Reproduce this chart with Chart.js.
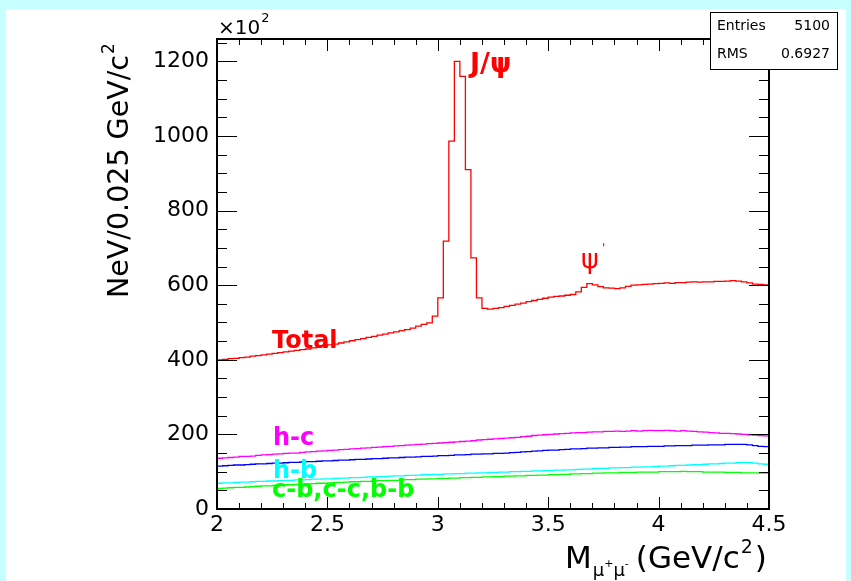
<!DOCTYPE html>
<html>
<head>
<meta charset="utf-8">
<script src="https://cdn.jsdelivr.net/npm/chart.js@4.4.1/dist/chart.umd.min.js"></script>
<style>
  html, body { margin: 0; padding: 0; background: #c6ffff; overflow: hidden; }
  #pad { position: absolute; left: 6px; top: 9px; width: 840px; height: 572px; background: #fff; }
  #c { position: absolute; left: 0; top: 0; }
</style>
</head>
<body>
<div id="pad"></div>
<canvas id="c" width="851" height="581"></canvas>
<script>
    // histogram binning (GeV/c^2)
    const X_MIN = 2.0, X_MAX = 4.5, BIN_W = 0.025;
    const Y_MAX = 1260;

    const xTickValues = [2, 2.5, 3, 3.5, 4, 4.5];
    const yTickValues = [0, 200, 400, 600, 800, 1000, 1200];

    // contents per bin, units of 10^2
    const total = [
        400, 401, 403, 404, 406, 407, 410, 411, 413, 415,
        417, 419, 421, 423, 425, 427, 429, 432, 434, 437,
        440, 442, 445, 448, 451, 454, 457, 460, 463, 466,
        469, 472, 475, 478, 481, 485, 490, 495, 499,
        517, 566, 718, 986, 1200, 1160, 910, 673, 566, 538,
        536, 538, 540, 543, 546, 549, 552, 556, 559, 562, 565,
        568, 570, 571, 573, 575, 582, 594, 604, 601, 596,
        593, 592, 591, 593, 597, 600, 601, 602, 603, 604,
        605, 606, 605, 607, 607, 608, 609, 608, 609, 609,
        610, 610, 611, 612, 611, 609, 606, 603, 602, 601
    ];
    const hc = [
        136, 137, 138, 139, 141, 141, 142, 144, 145, 146,
        147, 148, 149, 150, 150, 152, 153, 154, 155, 156,
        157, 158, 159, 160, 161, 162, 163, 164, 165, 166,
        167, 168, 169, 170, 171, 172, 173, 174, 175, 176,
        177, 178, 179, 180, 181, 182, 183, 185, 186, 187,
        188, 189, 190, 191, 192, 194, 195, 197, 198, 199,
        200, 201, 202, 203, 204, 205, 205, 206, 207, 207,
        208, 208, 209, 208, 209, 210, 209, 210, 211, 210,
        210, 211, 210, 209, 210, 209, 208, 207, 206, 205,
        204, 203, 203, 202, 201, 200, 199, 198, 197, 196
    ];
    const hb = [
        115, 116, 117, 118, 118, 119, 120, 121, 121, 122,
        123, 123, 124, 125, 125, 126, 127, 127, 128, 129,
        129, 130, 131, 131, 132, 133, 133, 134, 135, 135,
        136, 137, 137, 138, 139, 139, 140, 141, 141, 142,
        143, 143, 144, 145, 145, 146, 147, 147, 148, 148,
        149, 149, 150, 151, 152, 153, 154, 155, 156, 157,
        158, 158, 159, 160, 161, 161, 162, 163, 163, 164,
        164, 165, 165, 166, 166, 167, 167, 167, 168, 168,
        168, 169, 169, 170, 170, 170, 171, 171, 171, 172,
        172, 172, 173, 173, 173, 173, 172, 170, 168, 167
    ];
    const hbCyan = [
        69, 70, 70, 71, 72, 72, 73, 74, 74, 75,
        75, 76, 77, 77, 78, 78, 79, 80, 80, 81,
        81, 82, 83, 83, 84, 84, 85, 86, 86, 87,
        87, 88, 89, 89, 90, 90, 91, 92, 92, 93,
        93, 94, 94, 95, 95, 96, 96, 97, 97, 98,
        98, 99, 99, 100, 100, 101, 101, 102, 102, 103,
        103, 104, 104, 105, 105, 106, 107, 107, 108, 109,
        109, 110, 110, 111, 111, 112, 112, 113, 113, 114,
        115, 115, 116, 117, 117, 118, 119, 119, 120, 121,
        121, 122, 123, 123, 124, 125, 124, 123, 121, 120
    ];
    const heavy = [
        55, 56, 57, 58, 58, 59, 60, 61, 62, 62,
        63, 64, 65, 65, 66, 67, 67, 68, 69, 69,
        70, 71, 71, 72, 73, 73, 74, 74, 75, 76,
        76, 77, 77, 78, 79, 79, 80, 80, 81, 81,
        82, 82, 83, 83, 84, 84, 85, 85, 86, 86,
        87, 87, 88, 88, 89, 89, 90, 90, 91, 91,
        92, 92, 93, 93, 94, 94, 95, 95, 96, 96,
        97, 97, 97, 98, 98, 98, 99, 99, 99, 99,
        100, 100, 100, 100, 101, 100, 100, 100, 99, 99,
        99, 99, 98, 98, 98, 97, 97, 97, 96, 96
    ];

    const FONT = 'DejaVu Sans';

    // one point per bin low edge, plus the closing edge
    function histPoints(vals) {
        const pts = vals.map((v, i) => ({ x: X_MIN + i * BIN_W, y: v }));
        pts.push({ x: X_MIN + vals.length * BIN_W, y: vals[vals.length - 1] });
        return pts;
    }

    function histSet(vals, color) {
        return {
            data: histPoints(vals), borderColor: color, borderWidth: 1.3,
            stepped: 'before', pointRadius: 0, fill: false, tension: 0
        };
    }

    function txt(ctx, s, x, y, size, color, bold) {
        ctx.font = `${bold ? 'bold ' : ''}${size}px "${FONT}"`;
        ctx.fillStyle = color;
        ctx.fillText(s, x, y);
        return ctx.measureText(s).width;
    }

    const rootFrame = {
        id: 'rootFrame',
        afterDraw(chart) {
            const { ctx, chartArea: a, scales: { x, y } } = chart;
            ctx.save();
            ctx.strokeStyle = '#000';
            ctx.lineWidth = 1;
            ctx.beginPath();
            // ticks on all four sides, pointing in
            for (let k = 0; k <= 25; k++) {
                const px = Math.round(x.getPixelForValue(X_MIN + k * 0.1)) + 0.5;
                const len = k % 5 === 0 ? 12 : 6;
                ctx.moveTo(px, a.bottom); ctx.lineTo(px, a.bottom - len);
                ctx.moveTo(px, a.top); ctx.lineTo(px, a.top + len);
            }
            for (let k = 0; k * 50 <= Y_MAX; k++) {
                const py = Math.round(y.getPixelForValue(k * 50)) + 0.5;
                const len = k % 4 === 0 ? 20 : 10;
                ctx.moveTo(a.left, py); ctx.lineTo(a.left + len, py);
                ctx.moveTo(a.right, py); ctx.lineTo(a.right - len, py);
            }
            ctx.stroke();
            ctx.lineWidth = 2;
            ctx.strokeRect(a.left, a.top, a.right - a.left, a.bottom - a.top);

            ctx.textAlign = 'left';
            ctx.textBaseline = 'alphabetic';

            // x10^2
            let w = txt(ctx, '×10', 218, 34, 20, '#000');
            txt(ctx, '2', 218 + w + 1, 22, 13, '#000');

            // y title
            ctx.save();
            ctx.translate(128, 298);
            ctx.rotate(-Math.PI / 2);
            w = txt(ctx, 'NeV/0.025 GeV/c', 0, 0, 28.5, '#000');
            txt(ctx, '2', w + 1, -14, 17, '#000');
            ctx.restore();

            // x title
            let cx = 565;
            cx += txt(ctx, 'M', cx, 568, 31, '#000');
            cx += 1;
            cx += txt(ctx, 'μ', cx, 576, 18, '#000');
            cx += txt(ctx, '+', cx, 567, 11, '#000');
            cx += txt(ctx, 'μ', cx, 576, 18, '#000');
            cx += txt(ctx, '-', cx, 567, 11, '#000');
            cx += 7;
            cx += txt(ctx, '(GeV/c', cx, 568, 31, '#000');
            cx += txt(ctx, '2', cx + 1, 553, 19, '#000') + 3;
            txt(ctx, ')', cx, 568, 31, '#000');

            // labels
            txt(ctx, 'J/ψ', 470, 72, 27, '#ff0000', true);
            txt(ctx, 'ψ', 581, 268, 27, '#ff0000');
            txt(ctx, '\'', 602, 252, 12, '#ff0000');
            txt(ctx, 'Total', 272, 348, 24, '#ff0000', true);
            txt(ctx, 'h-c', 273, 445, 24, '#ff00ff', true);
            txt(ctx, 'h-b', 273, 478, 24, '#00ffff', true);
            txt(ctx, 'c-b,c-c,b-b', 272, 497, 24, '#00ff00', true);

            // stats box
            ctx.fillStyle = '#fff';
            ctx.fillRect(710, 12, 127, 57);
            ctx.lineWidth = 1;
            ctx.strokeRect(710.5, 12.5, 127, 57);
            txt(ctx, 'Entries', 717, 30, 14, '#000');
            txt(ctx, 'RMS', 717, 58, 14, '#000');
            ctx.textAlign = 'right';
            txt(ctx, '5100', 830, 30, 14, '#000');
            txt(ctx, '0.6927', 830, 58, 14, '#000');
            ctx.restore();
        }
    };

    new Chart(document.getElementById('c'), {
        type: 'line',
        data: {
            datasets: [
                histSet(heavy, '#00ff00'),
                histSet(hbCyan, '#00ffff'),
                histSet(hb, '#0000ff'),
                histSet(hc, '#ff00ff'),
                histSet(total, '#ff0000')
            ]
        },
        options: {
            responsive: false,
            animation: false,
            events: [],
            layout: { padding: { left: 0, top: 39, right: 82, bottom: 0 } },
            plugins: { legend: { display: false }, tooltip: { enabled: false } },
            scales: {
                x: {
                    type: 'linear', min: X_MIN, max: X_MAX,
                    afterBuildTicks: s => { s.ticks = xTickValues.map(v => ({ value: v })); },
                    afterFit: s => { s.height = 72; },
                    grid: { display: false, drawTicks: false },
                    border: { display: false },
                    ticks: {
                        font: { family: FONT, size: 22 }, color: '#000', padding: 3,
                        maxRotation: 0, autoSkip: false, callback: v => String(v)
                    }
                },
                y: {
                    type: 'linear', min: 0, max: Y_MAX,
                    afterBuildTicks: s => { s.ticks = yTickValues.map(v => ({ value: v })); },
                    afterFit: s => { s.width = 217; },
                    grid: { display: false, drawTicks: false },
                    border: { display: false },
                    ticks: {
                        font: { family: FONT, size: 22 }, color: '#000', padding: 8,
                        autoSkip: false, callback: v => String(v)
                    }
                }
            }
        },
        plugins: [rootFrame]
    });
</script>
</body>
</html>
